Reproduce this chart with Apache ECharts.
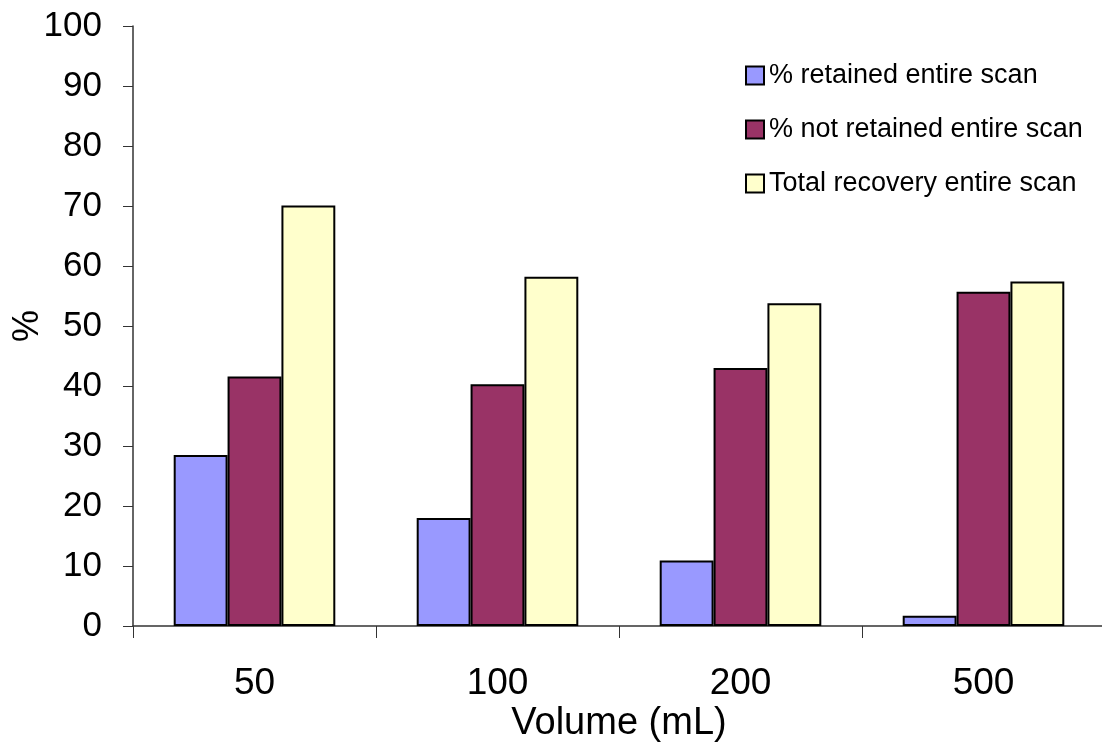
<!DOCTYPE html>
<html>
<head>
<meta charset="utf-8">
<script src="https://cdn.jsdelivr.net/npm/echarts@6/dist/echarts.min.js"></script>
<style>
  html, body { margin: 0; padding: 0; background: #fff; }
  #chart { width: 1102px; height: 744px; }
</style>
</head>
<body>
<div id="chart"></div>
<script>
// data
var volumes = ['50', '100', '200', '500'];
var retained = [28.5, 18.0, 10.9, 1.7];
var notRetained = [41.6, 40.3, 43.0, 55.7];
var totalRecovery = [70.1, 58.2, 53.8, 57.4];
var seriesNames = ['% retained entire scan', '% not retained entire scan', 'Total recovery entire scan'];
var seriesColors = ['#9999FF', '#993366', '#FFFFCC'];

var myChart = echarts.init(document.getElementById('chart'));

var font = '"Liberation Sans", Arial, sans-serif';

function barSeries(i, values) {
  return {
    name: seriesNames[i],
    type: 'bar',
    data: values,
    barGap: '0%',
    barCategoryGap: '33.5%',
    itemStyle: { color: seriesColors[i], borderColor: '#000', borderWidth: 2 }
  };
}

var option = {
  animation: false,
  backgroundColor: '#fff',
  textStyle: { fontFamily: font, color: '#000' },
  legend: {
    orient: 'vertical',
    left: 740,
    top: 57,
    itemWidth: 18,
    itemHeight: 18,
    itemGap: 27,
    icon: 'rect',
    textStyle: { fontFamily: font, fontSize: 27, lineHeight: 26, color: '#000' },
    data: seriesNames
  },
  // grid runs past the right edge, like the original
  grid: { left: 133, top: 26, width: 972, height: 600, outerBoundsMode: 'none', containLabel: false },
  xAxis: {
    type: 'category',
    data: volumes,
    name: 'Volume (mL)',
    nameLocation: 'middle',
    nameGap: 79,
    nameMoveOverlap: false,
    nameTextStyle: { fontFamily: font, fontSize: 38, color: '#000' },
    axisLine: { lineStyle: { color: '#333', width: 1.5 } },
    axisTick: { show: true, length: 12, lineStyle: { color: '#333' } },
    axisLabel: { fontFamily: font, fontSize: 37, color: '#000', margin: 39 }
  },
  yAxis: {
    type: 'value',
    min: 0,
    max: 100,
    interval: 10,
    name: '%',
    nameLocation: 'middle',
    nameGap: 87,
    nameMoveOverlap: false,
    nameTextStyle: { fontFamily: font, fontSize: 36, color: '#000' },
    axisLine: { show: true, lineStyle: { color: '#333', width: 1.5 } },
    axisTick: { show: true, length: 10, lineStyle: { color: '#333' } },
    axisLabel: { fontFamily: font, fontSize: 35, color: '#000', margin: 31 },
    splitLine: { show: false }
  },
  series: [
    barSeries(0, retained),
    barSeries(1, notRetained),
    barSeries(2, totalRecovery)
  ]
};

myChart.setOption(option);
</script>
</body>
</html>
